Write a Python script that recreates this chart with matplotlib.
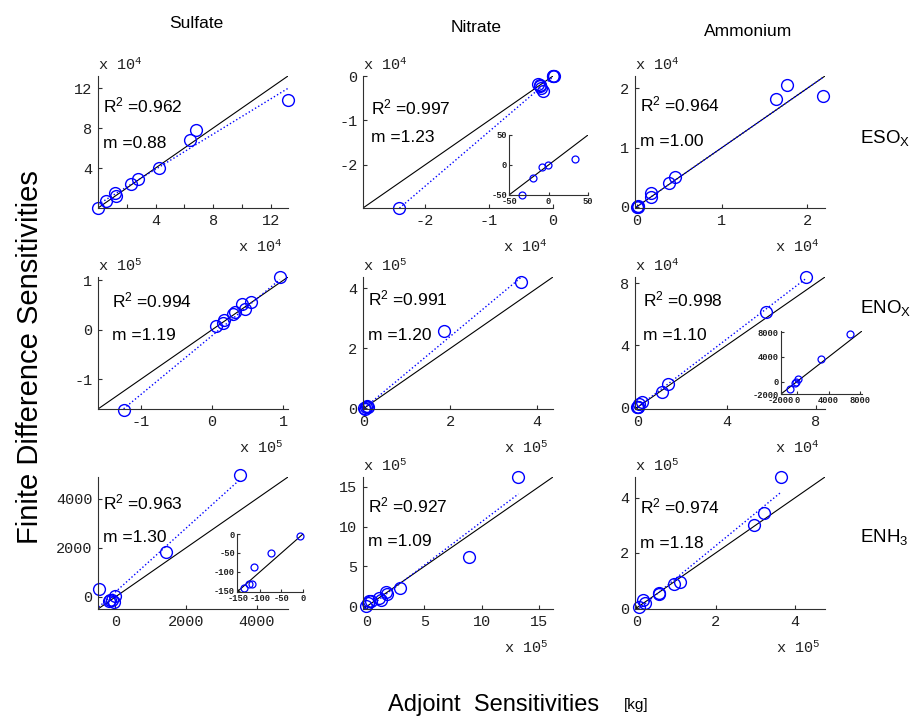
import matplotlib
matplotlib.use('Agg')
import matplotlib.pyplot as plt
from matplotlib.transforms import ScaledTranslation

plt.rcParams['font.family'] = ['Liberation Sans', 'DejaVu Sans']
plt.rcParams['mathtext.fontset'] = 'custom'
plt.rcParams['mathtext.rm'] = 'Liberation Sans'
plt.rcParams['mathtext.tt'] = 'Liberation Mono'
plt.rcParams['mathtext.it'] = 'Liberation Sans:italic'

# ---------------- data ----------------
species = ['Sulfate', 'Nitrate', 'Ammonium']
emission_labels = ['ESO$_\\mathrm{X}$', 'ENO$_\\mathrm{X}$', 'ENH$_\\mathrm{3}$']

r2_values = [[0.962, 0.997, 0.964],
             [0.994, 0.991, 0.998],
             [0.963, 0.927, 0.974]]
slopes = [[0.88, 1.23, 1.00],
          [1.19, 1.20, 1.10],
          [1.30, 1.09, 1.18]]
intercepts = [[0.35, -0.02, 0.0],
              [-0.12, 0.0, 0.0],
              [200.0, -0.3, -0.1]]
x_exponents = [[4, 4, 4], [5, 5, 4], [None, 5, 5]]
y_exponents = [[4, 4, 4], [5, 5, 4], [None, 5, 5]]

# adjoint (x) and finite difference (y) sensitivities, in axis units
s1_adj = [0, 0.56, 1.2, 1.26, 2.3, 2.77, 4.23, 6.37, 6.84, 13.23]
s1_fd = [0, 0.66, 1.48, 1.22, 2.4, 2.92, 3.97, 6.82, 7.8, 10.83]
n1_adj = [-2.40, -0.23, -0.21, -0.18, -0.16, -0.20, 0.0, 0.01, 0.0]
n1_fd = [-2.97, -0.17, -0.22, -0.27, -0.33, -0.20, 0.0, 0.01, 0.005]
a1_adj = [0, 0.01, 0.02, 0.17, 0.17, 0.38, 0.45, 1.64, 1.76, 2.19]
a1_fd = [0, 0.01, 0.0, 0.24, 0.17, 0.41, 0.50, 1.82, 2.06, 1.88]

s2_adj = [-1.24, 0.058, 0.15, 0.165, 0.30, 0.33, 0.42, 0.47, 0.55, 0.955]
s2_fd = [-1.62, 0.07, 0.14, 0.195, 0.32, 0.36, 0.52, 0.43, 0.56, 1.06]
n2_adj = [0, 0.05, 0.1, 0.08, 0.02, 1.855, 3.64]
n2_fd = [0, 0.03, 0.05, 0.08, -0.02, 2.57, 4.19]
a2_adj = [0, 0.02, 0.05, 0.09, 0.2, 1.13, 1.36, 5.75, 7.56]
a2_fd = [0, 0.01, 0.04, 0.25, 0.36, 1.0, 1.53, 6.13, 8.39]

s3_adj = [-470, -190, -141, -94, -48, 0, 1437, 3521]
s3_fd = [320, -178, -108, -108, -207, 29, 1838, 4969]
n3_adj = [-0.1, 0.09, 0.23, 0.38, 1.05, 1.25, 1.63, 1.74, 2.92, 8.85, 13.19]
n3_fd = [0.0, 0.41, 0.62, 0.70, 1.03, 0.83, 1.78, 1.53, 2.28, 6.13, 16.24]
a3_adj = [0.08, 0.17, 0.21, 0.57, 0.58, 0.96, 1.1, 2.96, 3.21, 3.64]
a3_fd = [0.05, 0.30, 0.18, 0.51, 0.54, 0.89, 0.95, 3.02, 3.43, 4.76]

panel_x = [[s1_adj, n1_adj, a1_adj], [s2_adj, n2_adj, a2_adj], [s3_adj, n3_adj, a3_adj]]
panel_y = [[s1_fd, n1_fd, a1_fd], [s2_fd, n2_fd, a2_fd], [s3_fd, n3_fd, a3_fd]]

limits = [[(0, 13.2), (-2.97, 0), (-0.02, 2.21)],
          [(-1.6, 1.07), (-0.02, 4.37), (-0.1, 8.4)],
          [(-490, 4890), (-0.33, 16.2), (-0.03, 4.75)]]
ticks = [[[4, 8, 12], [-2, -1, 0], [0, 1, 2]],
         [[-1, 0, 1], [0, 2, 4], [0, 4, 8]],
         [[0, 2000, 4000], [0, 5, 10, 15], [0, 2, 4]]]

# insets
n1_in_adj = [-33.9, -19.9, -8.1, -0.8, 33.9]
n1_in_fd = [-49.4, -21.3, -2.8, 0, 9.6]
a2_in_adj = [-893, -197, -74, 131, 3041, 6689]
a2_in_fd = [-1111, -278, 0, 389, 3722, 7778]
s3_in_adj = [-136.5, -125, -118, -112.5, -75, -7.5]
s3_in_fd = [-142, -132, -132, -86, -50.6, -6.2]

# ---------------- layout ----------------
W, H = 913, 722
fig = plt.figure(figsize=(W / 100, H / 100), dpi=100)

col_left = [98, 363, 635]
row_top = [76, 277, 477]
ax_w, ax_h = 190, 132

r2_off = [[(5, 29), (8, 31), (5, 28)],
          [(14, 23), (5, 21), (8, 22)],
          [(5, 25), (5, 28), (5, 29)]]
m_off = [[67, 62, 65], [58, 59, 59], [61, 64, 66]]

spine_c = '#303030'
mono = 'Liberation Mono'


def fmt(v):
    return '%g' % v


def px_axes(L, T, w, h):
    return fig.add_axes([L / W, 1 - (T + h) / H, w / W, h / H])


def style(ax, tks, xlim, ylim, size, pad, tlen):
    for s in ['top', 'right']:
        ax.spines[s].set_visible(False)
    for s in ['left', 'bottom']:
        ax.spines[s].set_color(spine_c)
        ax.spines[s].set_linewidth(0.8)
    ax.set_xlim(*xlim)
    ax.set_ylim(*ylim)
    ax.set_xticks(tks[0])
    ax.set_yticks(tks[1])
    ax.set_xticklabels([fmt(t) for t in tks[0]], fontfamily=mono, fontsize=size)
    ax.set_yticklabels([fmt(t) for t in tks[1]], fontfamily=mono, fontsize=size)
    ax.tick_params(direction='in', length=tlen, width=0.8, color=spine_c, pad=pad,
                   labelcolor='#202020')
    ax.patch.set_alpha(0)


for i in range(3):
    for j in range(3):
        L, T = col_left[j], row_top[i]
        ax = px_axes(L, T, ax_w, ax_h)
        lo, hi = limits[i][j]
        x = panel_x[i][j]
        y = panel_y[i][j]
        ax.plot([lo, hi], [lo, hi], color='black', lw=0.8)
        m, b = slopes[i][j], intercepts[i][j]
        xs = [min(x), max(x)]
        ax.plot(xs, [m * v + b for v in xs], ':', color='blue', lw=1.0)
        ax.plot(x, y, 'o', mfc='none', mec='blue', ms=8.5, mew=1.0, clip_on=False)
        style(ax, (ticks[i][j], ticks[i][j]), (lo, hi), (lo, hi), 11, 4, 3)
        if i == 0 and j == 0:
            ax.set_xticks([2, 6, 10], minor=True)
            ax.tick_params(which='minor', direction='in', length=3, width=0.8, color=spine_c)

        dx, dy = r2_off[i][j]
        tr = ax.transAxes + ScaledTranslation(dx / 100, -dy / 100, fig.dpi_scale_trans)
        ax.text(0, 1, 'R$^2$ =%.3f' % r2_values[i][j], transform=tr, fontsize=12.5,
                va='center', ha='left')
        tr = ax.transAxes + ScaledTranslation(dx / 100, -m_off[i][j] / 100, fig.dpi_scale_trans)
        ax.text(0, 1, 'm =%.2f' % slopes[i][j], transform=tr, fontsize=12.5,
                va='center', ha='left')

        if y_exponents[i][j] is not None:
            tr = ax.transAxes + ScaledTranslation(0, 11 / 100, fig.dpi_scale_trans)
            ax.text(0, 1, 'x 10$^{\\mathtt{%d}}$' % y_exponents[i][j], transform=tr,
                    fontfamily=mono, fontsize=11, va='center', ha='left', color='#202020')
        if x_exponents[i][j] is not None:
            tr = ax.transAxes + ScaledTranslation(-5 / 100, -39 / 100, fig.dpi_scale_trans)
            ax.text(1, 0, 'x 10$^{\\mathtt{%d}}$' % x_exponents[i][j], transform=tr,
                    fontfamily=mono, fontsize=11, va='center', ha='right', color='#202020')

# insets
insets = [
    ((509, 135, 79, 60), n1_in_adj, n1_in_fd, (-50, 50), [-50, 0, 50]),
    ((781, 331, 81, 63), a2_in_adj, a2_in_fd, (-2000, 8200), [-2000, 0, 4000, 8000]),
    ((237, 534, 66, 58), s3_in_adj, s3_in_fd, (-153, 0), [-150, -100, -50, 0]),
]
for (L, T, w, h), xi, yi, lim, tk in insets:
    ax = px_axes(L, T, w, h)
    ax.plot([lim[0], lim[1]], [lim[0], lim[1]], color='black', lw=0.8)
    ax.plot(xi, yi, 'o', mfc='none', mec='blue', ms=5, mew=0.9, clip_on=False)
    style(ax, (tk, tk), lim, lim, 6.3, 1.5, 2)
    for lab in ax.get_xticklabels() + ax.get_yticklabels():
        lab.set_fontweight('bold')

# titles and labels
title_pos = [(196, 24), (476, 28), (748, 31)]
for name, (tx, ty) in zip(species, title_pos):
    fig.text(tx / W, 1 - ty / H, name, ha='center', va='center', fontsize=12.5)

emis_pos = [138, 308, 537]
for lab, ty in zip(emission_labels, emis_pos):
    fig.text(860 / W, 1 - ty / H, lab, ha='left', va='center', fontsize=13.5)

fig.text(30 / W, 1 - 357 / H, 'Finite Difference Sensitivities', rotation=90,
         ha='center', va='center', fontsize=21)
fig.text(494 / W, 1 - 705 / H, 'Adjoint  Sensitivities', ha='center', va='center',
         fontsize=17)
fig.text(624 / W, 1 - 705 / H, '[kg]', ha='left', va='center', fontsize=11)

fig.savefig('out.png', dpi=100)
